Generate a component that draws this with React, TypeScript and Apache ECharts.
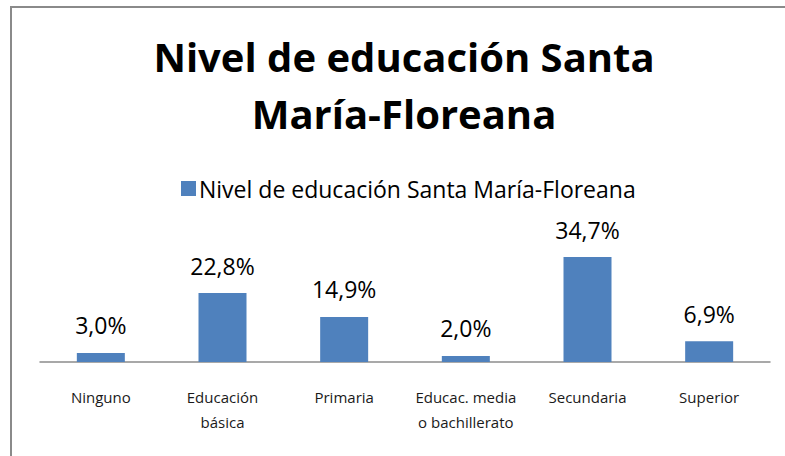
import React, { useEffect, useRef } from "react";
import * as echarts from "echarts";

const categories = [
  "Ninguno",
  "Educación\nbásica",
  "Primaria",
  "Educac. media\no bachillerato",
  "Secundaria",
  "Superior",
];
const seriesName = "Nivel de educación Santa María-Floreana";
const values = [3.0, 22.8, 14.9, 2.0, 34.7, 6.9];
const titleText = "Nivel de educación Santa\nMaría-Floreana";

export default function App() {
  const ref = useRef<HTMLDivElement>(null);
  useEffect(() => {
    if (!ref.current) return;
    const chart = echarts.init(ref.current, null, { renderer: "svg" });
    const font = "'Open Sans', 'Noto Sans', sans-serif";
    chart.setOption({
      animation: false,
      backgroundColor: "#ffffff",
      title: {
        text: titleText,
        left: 399,
        top: 23,
        textAlign: "center",
        textStyle: {
          fontFamily: font,
          fontWeight: "bold",
          fontSize: 40,
          lineHeight: 57,
          color: "#000000",
        },
      },
      legend: {
        data: [seriesName],
        left: 176,
        top: 172,
        icon: "rect",
        itemWidth: 15,
        itemHeight: 15,
        itemGap: 6,
        textStyle: { fontFamily: font, fontSize: 23, color: "#000000", padding: [0, 0, 0, -2] },
      },
      graphic: [
        {
          type: "rect",
          shape: { x: 11, y: 7, width: 800, height: 500 },
          style: { fill: "none", stroke: "#8a8a8a", lineWidth: 2 },
          silent: true,
          z: 100,
        },
      ],
      grid: { left: 40, right: 15, top: 241, bottom: 94 },
      xAxis: {
        type: "category",
        data: categories,
        axisLine: { lineStyle: { color: "#8c8c8c", width: 1.5 } },
        axisTick: { show: false },
        axisLabel: {
          fontFamily: font,
          fontSize: 15,
          lineHeight: 25,
          color: "#1a1a1a",
          margin: 22,
          interval: 0,
        },
      },
      yAxis: {
        type: "value",
        min: 0,
        max: 40,
        show: false,
        splitLine: { show: false },
      },
      series: [
        {
          name: seriesName,
          type: "bar",
          data: values,
          barWidth: 48,
          itemStyle: { color: "#4f81bd" },
          label: {
            show: true,
            position: "top",
            distance: 16,
            fontFamily: font,
            fontSize: 23,
            color: "#000000",
            formatter: (p: any) => p.value.toFixed(1).replace(".", ",") + "%",
          },
        },
      ],
    });
    return () => chart.dispose();
  }, []);
  return (
    <div
      ref={ref}
      style={{ position: "fixed", left: 0, top: 0, width: 785, height: 456 }}
    />
  );
}
